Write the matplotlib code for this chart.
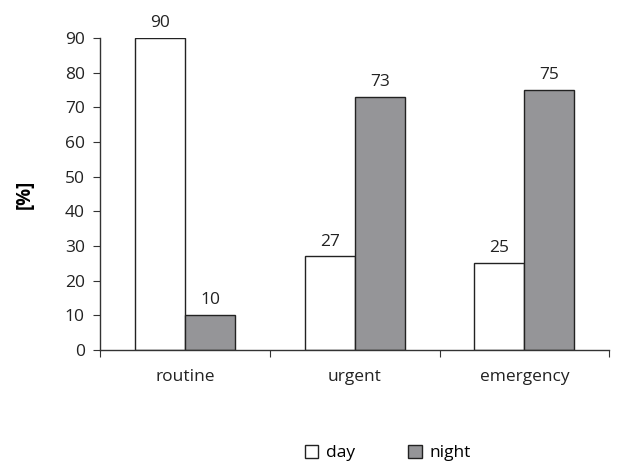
import numpy as np
import matplotlib.pyplot as plt

plt.rcParams['font.family'] = ['Open Sans', 'DejaVu Sans']

categories = ['routine', 'urgent', 'emergency']
day = [90, 27, 25]
night = [10, 73, 75]
series_names = ['day', 'night']

fig = plt.figure(figsize=(6.42, 4.66), dpi=100)
ax = fig.add_axes([0.156, 0.249, 0.793, 0.669])

centers = np.arange(len(categories)) + 0.5
w = 0.295
b1 = ax.bar(centers - w / 2, day, w, color='white', edgecolor='#222222', linewidth=1.0, label=series_names[0])
b2 = ax.bar(centers + w / 2, night, w, color='#959598', edgecolor='#222222', linewidth=1.0, label=series_names[1])

for bars, vals in ((b1, day), (b2, night)):
    for rect, v in zip(bars, vals):
        ax.text(rect.get_x() + rect.get_width() / 2, v + 2.0, f'{v}',
                ha='center', va='bottom', fontsize=12.5, color='#222222')

ax.set_xlim(0, 3)
ax.set_ylim(0, 90)
ax.set_yticks(np.arange(0, 91, 10))
ax.set_xticks([0, 1, 2, 3])
ax.set_xticklabels([])
ax.set_xticks(centers, minor=True)
ax.set_xticklabels(categories, minor=True)
ax.tick_params(axis='x', which='major', direction='out', length=5, color='#333333')
ax.tick_params(axis='x', which='minor', length=0, pad=14, labelsize=12.5, labelcolor='#222222')
ax.tick_params(axis='y', direction='out', length=5, pad=6, labelsize=12.5, labelcolor='#222222', color='#333333')

for s in ('top', 'right'):
    ax.spines[s].set_visible(False)
for s in ('left', 'bottom'):
    ax.spines[s].set_color('#333333')
    ax.spines[s].set_linewidth(1.0)

ax.set_ylabel('[%]', fontsize=13.5, fontweight='bold', labelpad=22)

fig.legend(handles=[b1, b2], labels=series_names, loc='center', bbox_to_anchor=(0.604, 0.028),
           ncol=2, frameon=False, fontsize=12.5, handlelength=0.8, handleheight=0.8,
           handletextpad=0.46, columnspacing=3.0, borderpad=0)

fig.savefig('out.png', dpi=100)
